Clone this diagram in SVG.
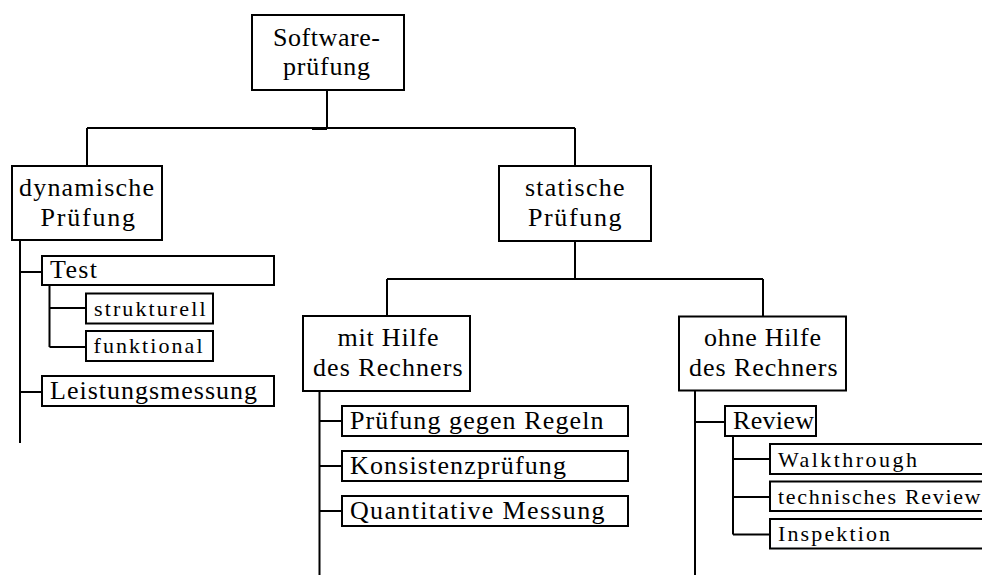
<svg xmlns="http://www.w3.org/2000/svg" width="982" height="575" viewBox="0 0 982 575">
  <style>
    .box { fill: #fff; stroke: #000; stroke-width: 2; }
    .wire { fill: none; stroke: #000; stroke-width: 2; }
    .lg { font-size: 26px; }
    .sm { font-size: 22px; }
  </style>
  <rect width="982" height="575" fill="#fff"/>

  <!-- connectors -->
  <g id="connectors">
    <!-- root to first level -->
    <path class="wire" d="M327 90 V128 M87 128 H575 M87 128 V166 M575 128 V166"/>
    <rect x="312" y="127" width="15" height="3" fill="#000"/>
    <!-- statische Prüfung to its two kinds -->
    <path class="wire" d="M575 241 V279 M387 279 H763 M387 279 V316 M763 279 V317"/>
    <!-- dynamische Prüfung list -->
    <path class="wire" d="M20 240 V443 M20 272 H42 M20 392 H42"/>
    <path class="wire" d="M49.5 285 V347 M49.5 308 H86 M49.5 347 H86"/>
    <!-- mit Hilfe des Rechners list -->
    <path class="wire" d="M319.5 391 V575 M319.5 421 H342 M319.5 466 H342 M319.5 511 H342"/>
    <!-- ohne Hilfe des Rechners list -->
    <path class="wire" d="M695 390 V575 M695 422 H725"/>
    <path class="wire" d="M733 436 V534.5 M733 459 H770 M733 497 H770 M733 534.5 H770"/>
  </g>

  <g id="nodes" font-family="Liberation Serif, DejaVu Serif, serif" fill="#000">
  <g id="softwarepruefung">
    <rect class="box" x="252" y="15" width="152" height="75"/>
    <text class="lg" x="273" y="45.5" textLength="107">Software-</text>
    <text class="lg" x="283" y="75" textLength="87">prüfung</text>
  </g>

  <g id="dynamische">
    <rect class="box" x="12" y="166" width="150" height="74"/>
    <text class="lg" x="19" y="196" textLength="135">dynamische</text>
    <text class="lg" x="40.5" y="226" textLength="94.5">Prüfung</text>
  </g>

  <g id="statische">
    <rect class="box" x="499" y="166" width="152" height="75"/>
    <text class="lg" x="525" y="196" textLength="99.5">statische</text>
    <text class="lg" x="528" y="226" textLength="93.5">Prüfung</text>
  </g>

  <g id="test">
    <rect class="box" x="42" y="256" width="232" height="29"/>
    <text class="lg" x="50" y="278" textLength="47">Test</text>
  </g>
  <g id="strukturell">
    <rect class="box" x="86" y="293.5" width="127" height="30"/>
    <text class="sm" x="94" y="316" textLength="111.5">strukturell</text>
  </g>
  <g id="funktional">
    <rect class="box" x="86" y="331" width="127" height="30"/>
    <text class="sm" x="93.5" y="352.5" textLength="109">funktional</text>
  </g>
  <g id="leistungsmessung">
    <rect class="box" x="42" y="376" width="232" height="30"/>
    <text class="lg" x="50" y="399" textLength="207">Leistungsmessung</text>
  </g>

  <g id="mit-hilfe">
    <rect class="box" x="303" y="316" width="167" height="75"/>
    <text class="lg" x="337.5" y="345.5" textLength="101">mit Hilfe</text>
    <text class="lg" x="313" y="375.5" textLength="149.5">des Rechners</text>
  </g>
  <g id="regeln">
    <rect class="box" x="342" y="406" width="286" height="30"/>
    <text class="lg" x="350" y="428.5" textLength="253.5">Prüfung gegen Regeln</text>
  </g>
  <g id="konsistenz">
    <rect class="box" x="342" y="451" width="286" height="30"/>
    <text class="lg" x="350" y="473.5" textLength="216">Konsistenzprüfung</text>
  </g>
  <g id="quantitativ">
    <rect class="box" x="342" y="496" width="286" height="30"/>
    <text class="lg" x="350" y="518.5" textLength="254.5">Quantitative Messung</text>
  </g>

  <g id="ohne-hilfe">
    <rect class="box" x="679" y="316.5" width="167" height="74"/>
    <text class="lg" x="704" y="346" textLength="117">ohne Hilfe</text>
    <text class="lg" x="689" y="375.5" textLength="148.5">des Rechners</text>
  </g>
  <g id="review">
    <rect class="box" x="725" y="406" width="91" height="30"/>
    <text class="lg" x="733" y="428.5" textLength="81">Review</text>
  </g>
  <g id="walkthrough">
    <rect class="box" x="770" y="444" width="240" height="30"/>
    <text class="sm" x="778" y="466.5" textLength="139">Walkthrough</text>
  </g>
  <g id="technisches-review">
    <rect class="box" x="770" y="481.5" width="240" height="29.5"/>
    <text class="sm" x="778" y="503.5" textLength="202.5">technisches Review</text>
  </g>
  <g id="inspektion">
    <rect class="box" x="770" y="519" width="240" height="29.5"/>
    <text class="sm" x="778" y="540.5" textLength="112">Inspektion</text>
  </g>
  </g>
</svg>
